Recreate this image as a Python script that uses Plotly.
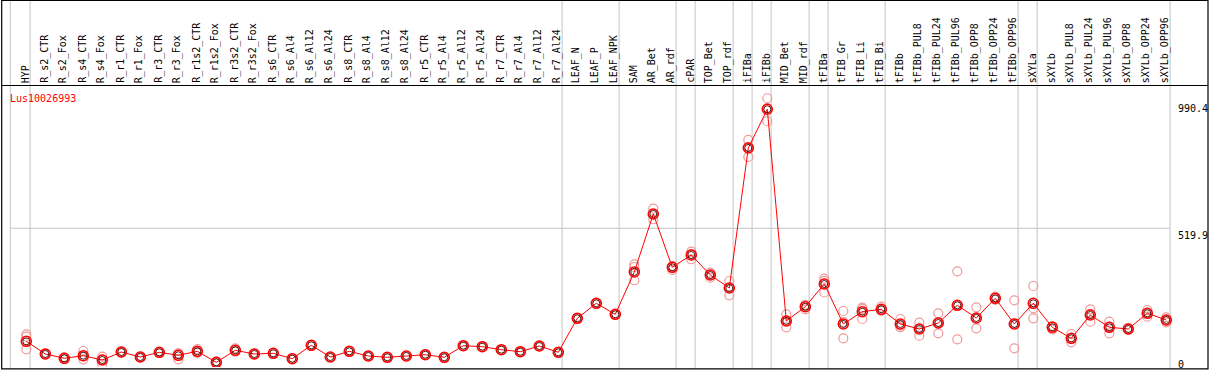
import plotly.graph_objects as go

categories = ["HYP", "R_s2_CTR", "R_s2_Fox", "R_s4_CTR", "R_s4_Fox", "R_r1_CTR", "R_r1_Fox",
              "R_r3_CTR", "R_r3_Fox", "R_r1s2_CTR", "R_r1s2_Fox", "R_r3s2_CTR", "R_r3s2_Fox",
              "R_s6_CTR", "R_s6_Al4", "R_s6_Al12", "R_s6_Al24", "R_s8_CTR", "R_s8_Al4",
              "R_s8_Al12", "R_s8_Al24", "R_r5_CTR", "R_r5_Al4", "R_r5_Al12", "R_r5_Al24",
              "R_r7_CTR", "R_r7_Al4", "R_r7_Al12", "R_r7_Al24", "LEAF_N", "LEAF_P", "LEAF_NPK",
              "SAM", "AR_Bet", "AR_rdf", "cPAR", "TOP_Bet", "TOP_rdf", "iFIBa", "iFIBb",
              "MID_Bet", "MID_rdf", "tFIBa", "tFIB_Gr", "tFIB_Li", "tFIB_Bi", "tFIBb",
              "tFIBb_PUL8", "tFIBb_PUL24", "tFIBb_PUL96", "tFIBb_OPP8", "tFIBb_OPP24",
              "tFIBb_OPP96", "sXYLa", "sXYLb", "sXYLb_PUL8", "sXYLb_PUL24", "sXYLb_PUL96",
              "sXYLb_OPP8", "sXYLb_OPP24", "sXYLb_OPP96"]

means = [96.3, 48.7, 32.6, 42.4, 26.2, 56.2, 37.5, 55.1, 43.9, 58.8, 17.6, 62.6, 48.7,
         51.3, 31.1, 81.3, 37.5, 58.8, 41.2, 36.4, 41.2, 46.1, 36.4, 79.8, 76.1, 64.8, 57.3,
         78.7, 55.1, 182.5, 238.7, 197.5, 356.1, 573.4, 373.7, 419.8, 344.8, 296.1, 820.8,
         965.9, 172.4, 226.0, 311.1, 161.2, 207.3, 216.3, 161.2, 142.4, 164.9, 231.3, 183.7,
         257.5, 161.2, 238.7, 148.8, 107.6, 194.9, 148.8, 142.4, 201.3, 176.2]

rep1 = [122.6, 47.0, 36.4, 60.0, 38.6, 58.0, 38.0, 55.0, 51.3, 67.5, 16.1, 70.1, 48.0,
        51.0, 31.0, 81.0, 37.0, 58.5, 41.0, 36.0, 41.0, 46.0, 36.0, 79.5, 76.0, 64.5, 57.0,
        78.5, 55.0, 182.0, 238.0, 197.0, 384.9, 593.3, 363.6, 432.1, 353.4, 322.3, 850.8,
        1007.1, 197.5, 216.3, 331.0, 209.9, 222.3, 226.0, 179.9, 166.0, 201.3, 358.7, 223.8,
        263.5, 250.0, 303.6, 153.7, 123.7, 216.3, 169.8, 142.4, 213.6, 186.3]
rep2 = [113.6, 50.0, 30.0, 28.9, 11.2, 54.0, 36.0, 54.0, 28.9, 56.2, 16.0, 60.0, 49.0,
        52.0, 30.0, 82.0, 38.0, 59.0, 41.5, 37.0, 41.5, 46.5, 37.0, 80.0, 76.5, 65.0, 57.5,
        79.0, 55.5, 183.0, 239.0, 198.0, 325.0, 553.6, 378.5, 403.7, 334.7, 268.7, 787.1,
        920.9, 148.8, 228.6, 279.2, 107.6, 179.9, 209.9, 148.8, 117.3, 126.3, 103.8, 145.0,
        251.1, 70.1, 220.0, 141.3, 92.6, 169.8, 126.3, 138.7, 188.5, 167.5]
rep3 = [66.3, 49.0, 31.5, 40.0, 28.0, 57.0, 38.0, 56.0, 50.0, 53.0, 20.0, 58.0, 49.0,
        51.0, 32.0, 81.0, 37.5, 59.0, 41.0, 36.5, 41.0, 46.0, 36.5, 80.0, 76.0, 65.0, 57.0,
        78.5, 55.0, 182.5, 238.5, 197.5, 374.8, 573.0, 375.0, 423.0, 346.0, 297.0, 825.0,
        970.0, 171.0, 233.0, 323.0, 168.7, 218.0, 213.0, 155.0, 144.0, 167.0, 231.0, 182.0,
        258.0, 163.0, 182.5, 151.0, 106.0, 199.0, 150.0, 146.0, 202.0, 175.0]

group_ends = ["HYP", "R_r7_Al24", "LEAF_NPK", "AR_rdf", "cPAR", "TOP_rdf", "iFIBa", "iFIBb",
              "MID_rdf", "tFIBa", "tFIB_Bi", "tFIBb_OPP96", "sXYLa", "sXYLb_OPP96"]

gene_name = "Lus10026993"
tick_labels = ["990.4", "519.9", "0"]
tick_values = [990.4, 519.9, 0]

W, H = 1209, 370
x0px, step = 26.3, 19.0
xr = [-x0px / step, (W - x0px) / step]
y_top_px, y_bot_px = 86, 367
yr = [0, 1053]
ydom = [(H - y_bot_px) / H, (H - y_top_px) / H]

FONT = "DejaVu Sans Mono"
idx = list(range(len(categories)))

fig = go.Figure()
for reps in (rep1, rep2, rep3):
    fig.add_trace(go.Scatter(x=idx, y=reps, mode="markers",
                             marker=dict(symbol="circle-open", size=9, color="#f09a9a",
                                         line=dict(width=1.2)),
                             hoverinfo="skip", showlegend=False))
fig.add_trace(go.Scatter(x=idx, y=means, mode="lines+markers",
                         line=dict(color="#ff0000", width=1),
                         marker=dict(symbol="circle-open", size=10, color="#ff0000",
                                     line=dict(width=1.6)),
                         showlegend=False))
fig.add_trace(go.Scatter(x=idx, y=means, mode="markers",
                         marker=dict(symbol="circle-open", size=7, color="#3a0000",
                                     line=dict(width=0.9)),
                         hoverinfo="skip", showlegend=False))

shapes = []
sep_positions = [-0.84] + [categories.index(c) + 0.2 for c in group_ends]
for p in sep_positions:
    shapes.append(dict(type="line", xref="x", yref="paper", x0=p, x1=p,
                       y0=1 - 369 / H, y1=1, line=dict(color="#c4c4c4", width=1), layer="below"))
shapes.append(dict(type="line", xref="x", yref="y", x0=-0.84, x1=categories.index("sXYLb_OPP96") + 0.2,
                   y0=tick_values[1], y1=tick_values[1], line=dict(color="#c4c4c4", width=1),
                   layer="below"))
shapes.append(dict(type="rect", xref="paper", yref="paper", x0=1.7 / W, x1=1208 / W,
                   y0=1 - 368.8 / H, y1=1 - 0.5 / H, line=dict(color="black", width=1.2)))
shapes.append(dict(type="line", xref="paper", yref="paper", x0=1.7 / W, x1=1208 / W,
                   y0=1 - 85.5 / H, y1=1 - 85.5 / H, line=dict(color="black", width=1.2)))

annotations = []
for i, c in enumerate(categories):
    annotations.append(dict(x=i - 0.05, xref="x", y=1 - 84 / H, yref="paper", text=c, showarrow=False,
                            textangle=-90, xanchor="center", yanchor="bottom", borderpad=0,
                            font=dict(family=FONT, size=10, color="black")))
annotations.append(dict(x=9 / W, xref="paper", y=1 - 92 / H, yref="paper", text=gene_name,
                        showarrow=False, xanchor="left", yanchor="top", borderpad=0,
                        font=dict(family=FONT, size=10, color="#ff0000")))
label_top_px = [102.5, 228.5, 358.0]
for t, ypx in zip(tick_labels, label_top_px):
    annotations.append(dict(x=1177 / W, xref="paper", y=1 - ypx / H, yref="paper", text=t,
                            showarrow=False, xanchor="left", yanchor="top", borderpad=0,
                            font=dict(family=FONT, size=10, color="black")))

fig.update_layout(width=W, height=H, autosize=False,
                  margin=dict(l=0, r=0, t=0, b=0, pad=0),
                  paper_bgcolor="white", plot_bgcolor="rgba(0,0,0,0)",
                  xaxis=dict(range=xr, visible=False, showgrid=False, zeroline=False),
                  yaxis=dict(range=yr, domain=ydom, visible=False, showgrid=False, zeroline=False),
                  shapes=shapes, annotations=annotations)

fig.write_html("out.html", config={"displayModeBar": False},
               post_script="document.body.style.margin='0';document.body.style.overflow='hidden';")
